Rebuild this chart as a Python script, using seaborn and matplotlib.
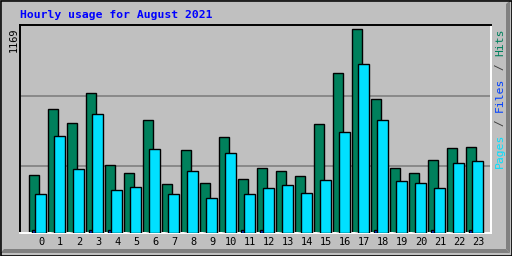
import matplotlib
matplotlib.use("Agg")
import matplotlib.pyplot as plt
from matplotlib.patches import Rectangle, Polygon
import numpy as np
import pandas as pd
import seaborn as sns

hours = list(range(24))
hits = [334, 714, 634, 801, 392, 346, 651, 282, 478, 288, 553, 311,
        374, 357, 328, 628, 916, 1169, 772, 374, 346, 420, 490, 495]
pages = [225, 559, 369, 685, 248, 265, 484, 225, 357, 202, 461, 225,
         259, 276, 230, 305, 582, 968, 651, 300, 288, 259, 403, 415]
files = [15, 0, 0, 15, 15, 0, 0, 0, 0, 0, 0, 15,
         15, 0, 0, 0, 0, 0, 15, 0, 0, 15, 0, 15]
title = "Hourly usage for August 2021"
ymax_label = "1169"

sns.set_theme(style="white")
plt.rcParams['font.family'] = ['DejaVu Sans Mono', 'DejaVu Sans']

W, H = 512, 256
fig = plt.figure(figsize=(W / 100, H / 100), dpi=100)
fig.patch.set_facecolor("#C0C0C0")

def fx(px):
    return px / W

def fy(py):
    return 1 - py / H

# frame decorations
fig.add_artist(Polygon([[fx(506), fy(4)], [fx(510), fy(0.5)], [fx(510), fy(253)], [fx(506), fy(249)]],
                       closed=True, transform=fig.transFigure, facecolor="#808080", edgecolor="none"))
fig.add_artist(Polygon([[fx(4), fy(249)], [fx(506), fy(249)], [fx(510), fy(253)], [fx(0.5), fy(253)]],
                       closed=True, transform=fig.transFigure, facecolor="#808080", edgecolor="none"))
fig.add_artist(Rectangle((fx(1), fy(2)), fx(508), 1 / H, transform=fig.transFigure,
                         facecolor="white", edgecolor="none"))
fig.add_artist(Rectangle((fx(1), fy(252)), 1 / W, 250 / H, transform=fig.transFigure,
                         facecolor="white", edgecolor="none"))
fig.add_artist(Rectangle((0.5 / W, 0.5 / H), 1 - 1 / W, 1 - 1 / H, transform=fig.transFigure,
                         facecolor="none", edgecolor="black", linewidth=1.2))

ax = fig.add_axes([fx(20), fy(233), 471 / W, 208 / H])
ax.set_facecolor("#C0C0C0")

ymax = 1194
ax.axhline(386, color="#808080", linewidth=1.2, zorder=0)
ax.axhline(788, color="#808080", linewidth=1.2, zorder=0)

x = np.array(hours, dtype=float)
df = pd.DataFrame({"hour": x, "hits": hits, "files": files, "pages": pages})

sns.barplot(x=x - 0.369, y=df["hits"], native_scale=True, width=0.526,
            color="#00805C", edgecolor="black", linewidth=1.0, errorbar=None,
            saturation=1, ax=ax, zorder=2)
sns.barplot(x=x - 0.41, y=df["files"], native_scale=True, width=0.16,
            color="#0040FF", edgecolor="black", linewidth=1.0, errorbar=None,
            saturation=1, ax=ax, zorder=3)
sns.barplot(x=x - 0.0425, y=df["pages"], native_scale=True, width=0.547,
            color="#00E0FF", edgecolor="black", linewidth=1.0, errorbar=None,
            saturation=1, ax=ax, zorder=4)

ax.set_xlim(-1.12, 23.67)
ax.set_ylim(0, ymax)
ax.set_xticks(hours)
ax.set_xticklabels([str(h) for h in hours], fontsize=7.4, color="black")
ax.tick_params(axis="x", length=0, pad=3)
ax.set_yticks([])
ax.set_xlabel("")
ax.set_ylabel("")
for s in ["left", "top"]:
    ax.spines[s].set_color("black")
    ax.spines[s].set_linewidth(1.4)
for s in ["right", "bottom"]:
    ax.spines[s].set_color("white")
    ax.spines[s].set_linewidth(1.4)

fig.text(fx(20), fy(15), title, color="#0000FF", fontsize=8.2, fontweight="bold",
         ha="left", va="center")
fig.text(fx(14), fy(28), ymax_label, color="black", fontsize=7.4, rotation=90,
         ha="center", va="top")

pieces = [("Pages", "#00E0FF", 0), (" / ", "#404040", 5), ("Files", "#0040FF", 8),
          (" / ", "#404040", 13), ("Hits", "#00805C", 16)]
for txt, col, start in pieces:
    fig.text(fx(500), fy(168 - 7 * start), txt, color=col, fontsize=8.2,
             rotation=90, ha="center", va="bottom")

fig.savefig("out.png", dpi=100, facecolor=fig.get_facecolor())
